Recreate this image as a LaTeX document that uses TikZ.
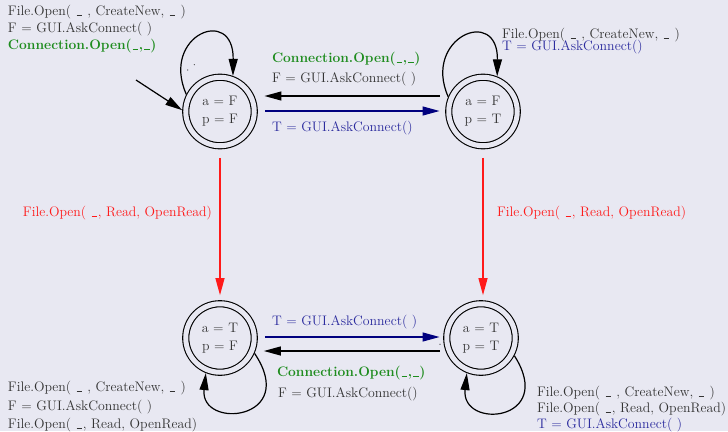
\documentclass[tikz,border=0pt]{standalone}
\usetikzlibrary{arrows.meta}
\definecolor{bg}{HTML}{E8E8F2}
\definecolor{txtgray}{HTML}{333333}
\definecolor{txtblue}{HTML}{2B2B9E}
\definecolor{lineblue}{HTML}{00007F}
\definecolor{txtgreen}{HTML}{1E8C1E}
\definecolor{myred}{HTML}{FF1A1A}
\newcommand\usc{\leavevmode\kern.06em\vbox{\hrule width.4em height .5pt}\kern.06em}
\begin{document}
\begin{tikzpicture}[x=1pt,y=-1pt,
  state/.style={circle, draw=black, double=bg, double distance=5pt, line width=1.1pt,
    minimum size=68.5pt, inner sep=0pt, outer sep=3.6pt, align=center, text=txtgray,
    font=\fontsize{13.8}{18}\selectfont},
  lbl/.style={anchor=base west, inner sep=0pt, outer sep=0pt, text=txtgray,
    font=\fontsize{13.8}{17}\selectfont},
  lblr/.style={lbl, anchor=base east},
  lblg/.style={lbl, text=txtgreen, font=\fontsize{13.8}{17}\selectfont\bfseries},
  arr/.style={-{Triangle[length=17pt,width=9pt]}, line width=1.2pt},
]
\fill[bg] (0,0) rectangle (728,431);
\useasboundingbox (0,0) rectangle (728,431);

% states
\node[state] (s1) at (220,111.5) {a = F\\p = F};
\node[state] (s2) at (483,111.5) {a = F\\p = T};
\node[state] (s3) at (220,338) {a = T\\p = F};
\node[state] (s4) at (481,338) {a = T\\p = T};

% initial arrow
\coordinate (init) at (136,80);
\draw[arr] (init) -- (s1.178);

% self loops
\draw[arr] (s1.153) .. controls +(-26,-59) and +(1,-71) .. (s1.70);
\draw[arr] (s2.157) .. controls +(-26,-59) and +(1,-71) .. (s2.68);
\draw[arr] (s3.-24) .. controls +(45,67) and +(-6,57) .. (s3.-112);
\draw[arr] (s4.-28) .. controls +(42,66) and +(-6,57) .. (s4.-112);

% horizontal top
\draw[arr, shorten <=5.6pt, shorten >=6.6pt] ([yshift=15.5pt]s2.west) -- ([yshift=15.5pt]s1.east);
\draw[arr, lineblue, shorten <=7.6pt, shorten >=5.6pt] ([yshift=0.5pt]s1.east) -- ([yshift=0.5pt]s2.west);

% horizontal bottom
\draw[arr, lineblue, shorten <=7pt, shorten >=3.6pt] ([yshift=1pt]s3.east) -- ([yshift=1pt]s4.west);
\draw[arr, shorten <=3.6pt, shorten >=6pt] ([yshift=-13pt]s4.west) -- ([yshift=-13pt]s3.east);

% vertical red
\draw[arr, myred, shorten <=8.6pt, shorten >=5pt] (s1.south) -- (s3.north);
\draw[arr, myred, shorten <=8.6pt, shorten >=5pt] (s2.south) -- (s2.south |- s4.north);

% small dots
\fill[txtgray] (187.7,70) circle (0.6);
\fill[txtgray] (194.3,64.7) circle (0.6);
\fill[txtgray] (440,344.3) circle (0.6);

% labels: loop s1
\node[lbl] (l1a) at (8,15) {File.Open( \usc{} , CreateNew, \usc{} )};
\node[lbl] (l1b) at (8,32) {F = GUI.AskConnect( )};
\node[lblg] (l1c) at (8,49) {Connection.Open(\usc,\usc)};

% labels: loop s2
\node[lbl] (l2a) at (502,38.3) {File.Open( \usc{} , CreateNew, \usc{} )};
\node[lbl, text=txtblue] (l2b) at (502,50.7) {T = GUI.AskConnect()};

% labels: top edges
\node[lblg] (t1) at (272,62.7) {Connection.Open(\usc,\usc)};
\node[lbl] (t2) at (272,82.7) {F = GUI.AskConnect( )};
\node[lbl, text=txtblue] (t3) at (272,131.7) {T = GUI.AskConnect()};

% labels: red edges
\node[lblr, text=myred] (r1) at (212,216.7) {File.Open( \usc, Read, OpenRead)};
\node[lbl, text=myred] (r2) at (497,216.7) {File.Open( \usc, Read, OpenRead)};

% labels: bottom edges
\node[lbl, text=txtblue] (b1) at (272,325) {T = GUI.AskConnect( )};
\node[lblg] (b2) at (277,376.7) {Connection.Open(\usc,\usc)};
\node[lbl] (b3) at (278,397.3) {F = GUI.AskConnect()};

% labels: loop s3
\node[lbl] (l3a) at (8,391) {File.Open( \usc{} , CreateNew, \usc{} )};
\node[lbl] (l3b) at (8,410.7) {F = GUI.AskConnect( )};
\node[lbl] (l3c) at (8,428.3) {File.Open( \usc, Read, OpenRead)};

% labels: loop s4
\node[lbl] (l4a) at (537,396) {File.Open( \usc{} , CreateNew, \usc{} )};
\node[lbl] (l4b) at (537,412.7) {File.Open( \usc, Read, OpenRead)};
\node[lbl, text=txtblue] (l4c) at (537,428.7) {T = GUI.AskConnect( )};
\end{tikzpicture}
\end{document}
